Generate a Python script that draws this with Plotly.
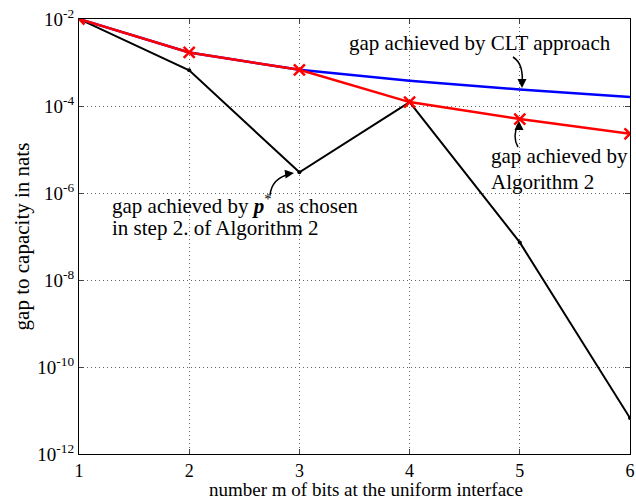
import plotly.graph_objects as go

m_bits = [1, 2, 3, 4, 5, 6]
gap_clt = [1.0e-2, 1.7e-3, 6.8e-4, 3.8e-4, 2.4e-4, 1.6e-4]
gap_alg2 = [1.0e-2, 1.7e-3, 6.8e-4, 1.23e-4, 5.0e-5, 2.3e-5]
gap_pstar = [1.0e-2, 6.6e-4, 3.0e-6, 1.23e-4, 7.3e-8, 6.7e-12]
ytick_exp = [-2, -4, -6, -8, -10, -12]

FONT = "Times New Roman, Liberation Serif, DejaVu Serif, serif"
W, H = 636, 502
L, R, T, B = 79, 6, 19, 48
PW, PH = W - L - R, H - T - B


def px(x):
    return (x - L) / PW


def py(y):
    return 1 - (y - T) / PH


fig = go.Figure()
fig.add_trace(go.Scatter(x=m_bits, y=gap_pstar, mode="lines+markers",
                         line=dict(color="black", width=2),
                         marker=dict(symbol="circle", size=4, color="black")))
fig.add_trace(go.Scatter(x=m_bits, y=gap_clt, mode="lines",
                         line=dict(color="#0000ff", width=2.5)))
fig.add_trace(go.Scatter(x=m_bits, y=gap_alg2, mode="lines+markers",
                         line=dict(color="#ff0000", width=2.5),
                         marker=dict(symbol="x-thin", size=11,
                                     line=dict(color="#ff0000", width=2.5))))

tickvals = [10.0 ** e for e in ytick_exp]
ticktext = ["10<sup>%d</sup>" % e for e in ytick_exp]

TS = 19
AS = 21
grid = dict(showgrid=True, gridcolor="#666", griddash="1px,3px", gridwidth=1)
fig.update_xaxes(range=[1, 6], tickvals=m_bits, ticks="inside", ticklen=5,
                 showline=True, linecolor="black", linewidth=1.2, mirror="ticks",
                 zeroline=False, tickfont=dict(family=FONT, size=18, color="black"),
                 **grid)
fig.update_yaxes(type="log", range=[-12, -2], tickvals=tickvals, ticktext=ticktext,
                 ticks="inside", ticklen=5,
                 showline=True, linecolor="black", linewidth=1.2, mirror="ticks",
                 zeroline=False, tickfont=dict(family=FONT, size=TS, color="black"),
                 title=dict(text="gap to capacity in nats",
                            font=dict(family=FONT, size=AS, color="black"), standoff=2),
                 **grid)

afont = dict(family=FONT, size=AS, color="black")
# x-axis title
fig.add_annotation(x=px(366), y=py(502), xref="paper", yref="paper", xanchor="center",
                   yanchor="bottom", text="number m of bits at the uniform interface",
                   showarrow=False, font=dict(family=FONT, size=19, color="black"))
texts = [
    (480, 43, "center", "gap achieved by CLT approach"),
    (489, 156, "left", "gap achieved by"),
    (489, 182, "left", "Algorithm 2"),
    (110, 205, "left", "gap achieved by <b><i>p</i></b><sup>*</sup> as chosen"),
    (110, 228, "left", "in step 2. of Algorithm 2"),
]
for x, y, anc, t in texts:
    fig.add_annotation(x=px(x), y=py(y), xref="paper", yref="paper", xanchor=anc,
                       yanchor="middle", text=t, showarrow=False, font=afont)

# curved arrow shafts
arrows = [
    ((513, 57), (524, 64), (522, 84)),
    ((518, 147), (512, 137), (518, 124)),
    ((270, 195), (272, 178), (290, 174)),
]
for (x0, y0), (cx, cy), (x1, y1) in arrows:
    fig.add_shape(type="path", xref="paper", yref="paper",
                  path="M %f,%f Q %f,%f %f,%f" % (px(x0), py(y0), px(cx), py(cy), px(x1), py(y1)),
                  line=dict(color="black", width=1.5))
# arrow heads
heads = [((522, 88), 0, -8), ((519, 121), 0, 8), ((294, 173), -8, 1)]
for (x, y), ax, ay in heads:
    fig.add_annotation(x=px(x), y=py(y), xref="paper", yref="paper", text="",
                       showarrow=True, arrowhead=2, arrowsize=1.2, arrowwidth=1.5,
                       arrowcolor="black", ax=ax, ay=ay)

fig.update_layout(width=W, height=H, showlegend=False,
                  margin=dict(l=L, r=R, t=T, b=B, autoexpand=False),
                  plot_bgcolor="white", paper_bgcolor="white",
                  font=dict(family=FONT, color="black"))
fig.write_html("out.html", config={"displayModeBar": False},
               post_script="document.body.style.margin='0';document.body.style.overflow='hidden';")
